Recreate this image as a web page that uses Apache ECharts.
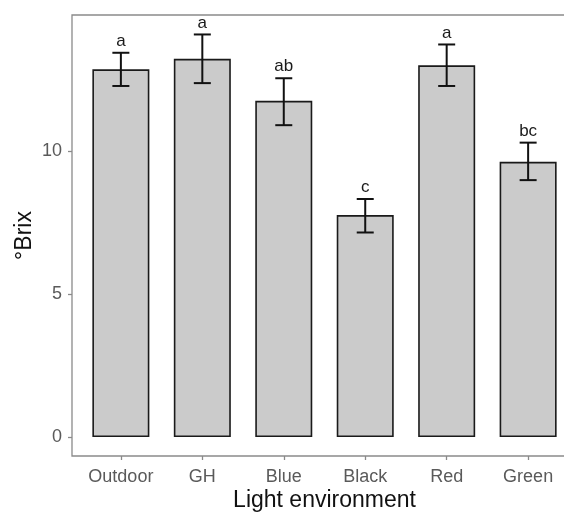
<!DOCTYPE html>
<html>
<head>
<meta charset="utf-8">
<script src="https://cdn.jsdelivr.net/npm/echarts@6/dist/echarts.min.js"></script>
<style>html,body{margin:0;padding:0;background:#fff}#c{width:564px;height:512px}</style>
</head>
<body>
<div id="c"></div>
<script>
var categories = ['Outdoor', 'GH', 'Blue', 'Black', 'Red', 'Green'];
var brixMean = [12.85, 13.22, 11.75, 7.76, 12.99, 9.62];
var errLow = [12.27, 12.37, 10.90, 7.15, 12.27, 8.98];
var errHigh = [13.43, 14.07, 12.54, 8.32, 13.72, 10.29];
var letters = ['a', 'a', 'ab', 'c', 'a', 'bc'];
var yTicks = [0, 5, 10];

var FONT = '"Liberation Sans", Arial, sans-serif';
var xPos = categories.map(function (c, i) { return i + 1; });

var barData = categories.map(function (c, i) { return [xPos[i], brixMean[i]]; });
var errData = categories.map(function (c, i) { return [xPos[i], errLow[i], errHigh[i], letters[i]]; });

var chart = echarts.init(document.getElementById('c'), null, { renderer: 'canvas' });
chart.setOption({
  animation: false,
  backgroundColor: '#ffffff',
  grid: {
    left: 72, top: 15, width: 505, height: 441,
    outerBoundsMode: 'none', containLabel: false,
    show: true, borderColor: '#8a8a8a', borderWidth: 1.3, backgroundColor: 'transparent'
  },
  xAxis: {
    type: 'value', min: 0.4, max: 6.6,
    splitLine: { show: false },
    axisLine: { show: false, onZero: false },
    axisTick: { show: true, length: 4, lineStyle: { color: '#8a8a8a', width: 1.3 }, customValues: xPos },
    axisLabel: {
      customValues: xPos, margin: 12, fontSize: 18, color: '#5a5a5a', fontFamily: FONT,
      formatter: function (v) { return categories[Math.round(v) - 1] || ''; }
    },
    name: 'Light environment', nameLocation: 'middle', nameGap: 33, nameMoveOverlap: false,
    nameTextStyle: { fontSize: 23, color: '#111111', fontFamily: FONT }
  },
  yAxis: {
    type: 'value', min: -0.66, max: 14.75,
    splitLine: { show: false },
    axisLine: { show: false, onZero: false },
    axisTick: { show: true, length: 4, lineStyle: { color: '#8a8a8a', width: 1.3 }, customValues: yTicks },
    axisLabel: { customValues: yTicks, margin: 10, fontSize: 18, color: '#5a5a5a', fontFamily: FONT },
    name: '°Brix', nameLocation: 'middle', nameGap: 36, nameRotate: 90, nameMoveOverlap: false,
    nameTextStyle: { fontSize: 23, color: '#111111', fontFamily: FONT }
  },
  series: [
    {
      type: 'bar', data: barData, barWidth: 57,
      itemStyle: { color: '#cbcbcb', borderColor: '#1a1a1a', borderWidth: 1.6 }
    },
    {
      type: 'custom', data: errData,
      renderItem: function (params, api) {
        var x = api.value(0);
        var lo = api.coord([x, api.value(1)]);
        var hi = api.coord([x, api.value(2)]);
        var hw = 8.5;
        return {
          type: 'group',
          children: [
            { type: 'line', shape: { x1: lo[0], y1: lo[1], x2: hi[0], y2: hi[1] }, style: { stroke: '#111111', lineWidth: 2 } },
            { type: 'line', shape: { x1: hi[0] - hw, y1: hi[1], x2: hi[0] + hw, y2: hi[1] }, style: { stroke: '#111111', lineWidth: 2 } },
            { type: 'line', shape: { x1: lo[0] - hw, y1: lo[1], x2: lo[0] + hw, y2: lo[1] }, style: { stroke: '#111111', lineWidth: 2 } },
            { type: 'text', style: { x: hi[0], y: hi[1] - 3, text: letters[params.dataIndex], align: 'center', verticalAlign: 'bottom', fontSize: 17, fill: '#1a1a1a', fontFamily: FONT } }
          ]
        };
      },
      z: 5
    }
  ]
});
</script>
</body>
</html>
